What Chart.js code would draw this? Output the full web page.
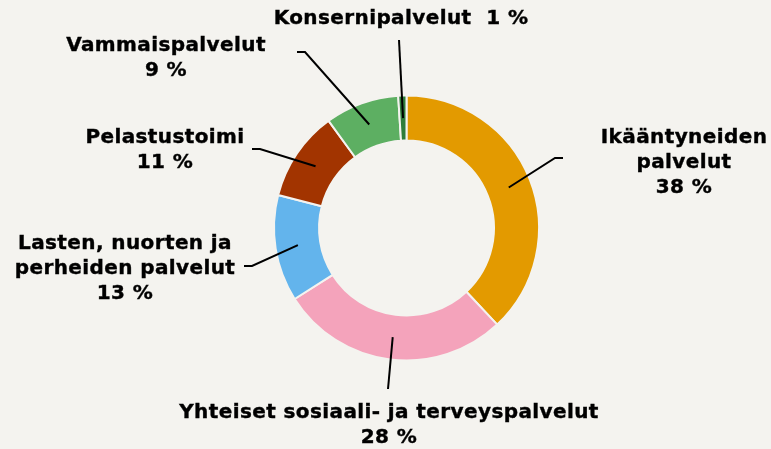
<!DOCTYPE html>
<html>
<head>
<meta charset="utf-8">
<script src="https://cdn.jsdelivr.net/npm/chart.js@4.4.0/dist/chart.umd.min.js"></script>
<style>
  html, body { margin: 0; padding: 0; background: #f4f3ef; }
  #wrap { width: 771px; height: 449px; }
</style>
</head>
<body>
<div id="wrap"><canvas id="costChart" width="771" height="449"></canvas></div>
<script>
const categories = [
  'Ikääntyneiden palvelut',
  'Yhteiset sosiaali- ja terveyspalvelut',
  'Lasten, nuorten ja perheiden palvelut',
  'Pelastustoimi',
  'Vammaispalvelut',
  'Konsernipalvelut'
];
const shares = [38, 28, 13, 11, 9, 1];
const sliceColors = ['#e39a00', '#f4a3bb', '#63b4ec', '#a23400', '#5daf62', '#2f7d3a'];

const BG = '#f4f3ef';

// where each data label sits, and the leader line's outer points (label side first)
const labelLayout = [
  { lines: ['Ikääntyneiden', 'palvelut'], x: 684, y: 138, leader: [[563, 158], [555, 158]] },
  { lines: ['Yhteiset sosiaali- ja terveyspalvelut'], x: 389, y: 413, leader: [[388, 389]] },
  { lines: ['Lasten, nuorten ja', 'perheiden palvelut'], x: 125, y: 244, leader: [[244, 266], [252, 266]] },
  { lines: ['Pelastustoimi'], x: 165, y: 138, leader: [[252, 149], [260, 149]] },
  { lines: ['Vammaispalvelut'], x: 166, y: 46, leader: [[297, 52], [305, 52]] },
  { lines: [], inline: true, x: 401, y: 19, leader: [[399, 40]] }
];

const LINE_H = 25;

const sliceLabels = {
  id: 'sliceLabels',
  afterDatasetsDraw(chart) {
    const ctx = chart.ctx;
    const arcs = chart.getDatasetMeta(0).data;
    ctx.save();
    arcs.forEach((arc, i) => {
      const p = arc.getProps(['x', 'y', 'startAngle', 'endAngle', 'innerRadius', 'outerRadius'], true);
      const mid = (p.startAngle + p.endAngle) / 2;
      const r = (p.innerRadius + p.outerRadius) / 2;
      const ax = p.x + Math.cos(mid) * r;
      const ay = p.y + Math.sin(mid) * r;
      const lay = labelLayout[i];

      // leader line
      ctx.strokeStyle = '#000';
      ctx.lineWidth = 2;
      ctx.beginPath();
      lay.leader.forEach((pt, k) => k === 0 ? ctx.moveTo(pt[0], pt[1]) : ctx.lineTo(pt[0], pt[1]));
      ctx.lineTo(ax, ay);
      ctx.stroke();

      // text
      const pct = shares[i] + ' %';
      const lines = lay.inline ? [categories[i] + '  ' + pct] : lay.lines.concat([pct]);
      ctx.fillStyle = '#000';
      ctx.font = 'bold 20px "DejaVu Sans", Verdana, sans-serif';
      ctx.letterSpacing = '0.4px';
      ctx.textAlign = 'center';
      ctx.textBaseline = 'middle';
      ctx.lineWidth = 0.4;
      lines.forEach((t, k) => {
        ctx.fillText(t, lay.x, lay.y + k * LINE_H);
        ctx.strokeText(t, lay.x, lay.y + k * LINE_H);
      });
    });
    ctx.restore();
  }
};

new Chart(document.getElementById('costChart'), {
  type: 'doughnut',
  data: {
    labels: categories,
    datasets: [{
      data: shares,
      backgroundColor: sliceColors,
      borderColor: BG,
      borderWidth: 2
    }]
  },
  options: {
    responsive: false,
    animation: false,
    cutout: '66%',
    layout: { padding: { top: 94.5, bottom: 87.5, left: 273, right: 231 } },
    plugins: {
      legend: { display: false },
      tooltip: { enabled: false }
    }
  },
  plugins: [sliceLabels]
});
</script>
</body>
</html>
